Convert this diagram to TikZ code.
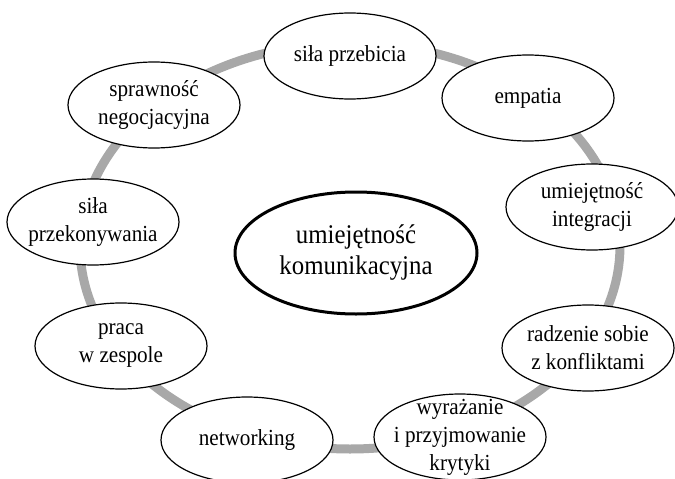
\documentclass[tikz,border=0pt]{standalone}
\usepackage{fontspec}
\setmainfont{Liberation Serif}[FakeStretch=0.92]
\usetikzlibrary{shapes}

\definecolor{ringgrey}{HTML}{A8A8A8}
\tikzset{
  bub/.style={draw, ellipse, fill=white, line width=1.2pt,
    minimum width=172pt, minimum height=86pt, inner sep=0pt},
  lbl/.style={align=center, font=\fontsize{23}{28}\selectfont},
  ring/.style={line width=9pt, color=ringgrey}
}

\begin{document}
\begin{tikzpicture}[x=1pt,y=-1pt]
    \useasboundingbox (0,0) rectangle (675,479);
    \coordinate (mid) at (350,246);
    \draw[ring] (mid) ellipse (270 and 203);

    \node[bub, label={[lbl]center:siła przebicia}] (prz) at (350,56) {};
    \node[bub, label={[lbl]center:empatia}] (emp) at (528,98) {};
    \node[bub, label={[lbl]center:{umiejętność\\integracji}}] (int) at (592,207) {};
    \node[bub, label={[lbl]center:{radzenie sobie\\z konfliktami}}] (kon) at (588,348) {};
    \node[bub, label={[lbl]center:{wyrażanie\\i przyjmowanie\\krytyki}}] (kry) at (460,437) {};
    \node[bub, label={[lbl]center:networking}] (net) at (247,440) {};
    \node[bub, label={[lbl]center:{praca\\w zespole}}] (zes) at (121,346) {};
    \node[bub, label={[lbl]center:{siła\\przekonywania}}] (prk) at (93,222) {};
    \node[bub, label={[lbl]center:{sprawność\\negocjacyjna}}] (neg) at (154,105) {};

    \node[bub, line width=3pt, minimum width=242pt, minimum height=122pt,
      label={[lbl, font=\fontsize{27}{31}\selectfont]center:{umiejętność\\komunikacyjna}}]
      (kom) at (356,253) {};
\end{tikzpicture}
\end{document}
